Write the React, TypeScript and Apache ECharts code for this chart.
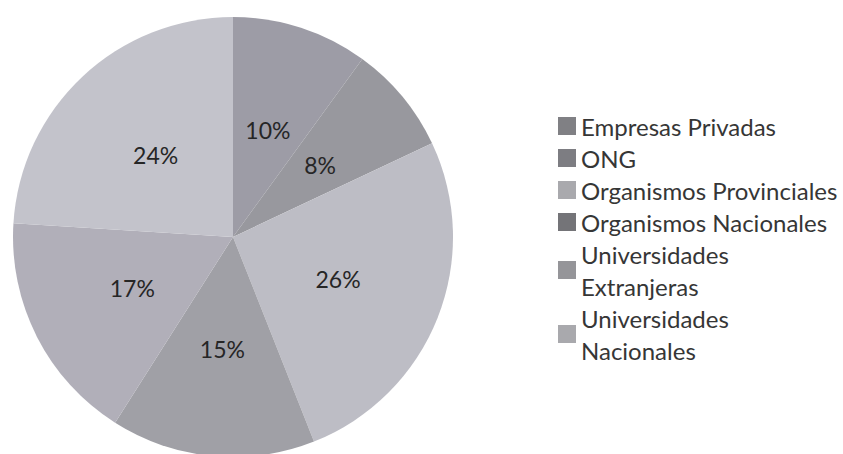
import React, { useEffect, useRef } from "react";
import * as echarts from "echarts";

const categories = [
  "Empresas Privadas",
  "ONG",
  "Organismos Provinciales",
  "Organismos Nacionales",
  "Universidades\nExtranjeras",
  "Universidades\nNacionales",
];
const values = [10, 8, 26, 15, 17, 24];
const sliceColors = ["#9d9ca6", "#98989e", "#bdbdc5", "#a0a0a6", "#b1afb9", "#c3c3cb"];
const legendColors = ["#808084", "#7d7d82", "#a9a9ad", "#747478", "#959599", "#a9a9ad"];

export default function App() {
  const ref = useRef<HTMLDivElement>(null);
  useEffect(() => {
    if (!ref.current) return;
    const chart = echarts.init(ref.current, null, { renderer: "svg" });
    chart.setOption({
      animation: false,
      backgroundColor: "#ffffff",
      legend: {
        orient: "vertical",
        left: 553,
        top: 105,
        itemWidth: 18,
        itemHeight: 18,
        itemGap: 0,
        icon: "rect",
        selectedMode: false,
        data: categories.map((c, i) => ({ name: c, itemStyle: { color: legendColors[i] } })),
        textStyle: {
          fontFamily: "Lato",
          fontSize: 24,
          color: "#363636",
          lineHeight: 32,
        },
      },
      series: [
        {
          type: "pie",
          center: [233, 237],
          radius: 220,
          startAngle: 90,
          clockwise: true,
          silent: true,
          data: categories.map((c, i) => ({
            name: c,
            value: values[i],
            itemStyle: { color: sliceColors[i] },
          })),
          label: {
            show: true,
            position: "inside",
            formatter: (p: any) => p.value + "%",
            fontFamily: "Lato",
            fontSize: 23,
            color: "#262626",
          },
          labelLine: { show: false },
        },
      ],
    });
    return () => chart.dispose();
  }, []);
  return (
    <div
      ref={ref}
      style={{ position: "absolute", left: 0, top: 0, width: 843, height: 454 }}
    />
  );
}
